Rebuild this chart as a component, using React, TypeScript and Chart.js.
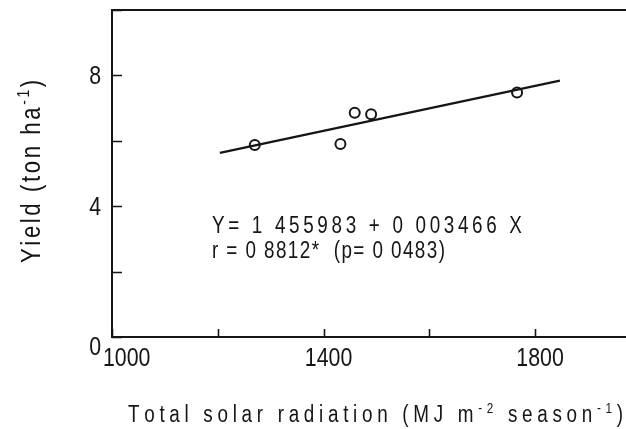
import React, { useEffect, useRef } from "react";
import { Chart, registerables } from "chart.js";

Chart.register(...registerables);

// ---- data ----
const radiation = [1270, 1432, 1459, 1490, 1766];
const yieldValues = [5.87, 5.9, 6.86, 6.81, 7.48];
const fitX = [1204, 1847];
const fitY = [5.63, 7.84];
const xTickValues = [1000, 1200, 1400, 1600, 1800];
const yTickValues = [0, 2, 4, 6, 8, 10];
const xTickLabels = [1000, 1400, 1800];
const yTickLabels = [0, 4, 8];
const eqLine1 = "Y= 1 455983 + 0 003466 X";
const eqLine2 = "r = 0 8812*  (p= 0 0483)";
const xTitle = [
  { t: "Total solar radiation (MJ m" },
  { t: "-2", sup: true },
  { t: " season" },
  { t: "-1", sup: true },
  { t: ")" },
];
const yTitle = [{ t: "Yield (ton ha" }, { t: "-1", sup: true }, { t: ")" }];

const FAMILY = "'Liberation Sans', Arial, sans-serif";
const HSCALE = 0.82;
const INK = "#151515";

type Seg = { t: string; sup?: boolean };

function measureRich(ctx: CanvasRenderingContext2D, segs: Seg[], size: number) {
  const chars: { ch: string; sup: boolean; w: number }[] = [];
  for (const s of segs) {
    for (const ch of s.t) {
      const sz = s.sup ? size * 0.62 : size;
      ctx.font = `${sz}px ${FAMILY}`;
      chars.push({ ch, sup: !!s.sup, w: ctx.measureText(ch).width * HSCALE });
    }
  }
  return chars;
}

// draws text at (x, y baseline); letter spacing chosen so that it spans targetWidth
// (targetWidth <= 0 : natural width, no extra spacing)
function drawRich(
  ctx: CanvasRenderingContext2D,
  segs: Seg[],
  x: number,
  y: number,
  size: number,
  targetWidth: number,
  align: "left" | "center" | "right" = "left"
) {
  const chars = measureRich(ctx, segs, size);
  const natural = chars.reduce((a, c) => a + c.w, 0);
  const ls = targetWidth > 0 && chars.length > 1 ? (targetWidth - natural) / (chars.length - 1) : 0;
  const total = natural + ls * (chars.length - 1);
  let cx = align === "left" ? x : align === "center" ? x - total / 2 : x - total;
  ctx.textAlign = "left";
  ctx.textBaseline = "alphabetic";
  for (const c of chars) {
    const sz = c.sup ? size * 0.62 : size;
    ctx.font = `${sz}px ${FAMILY}`;
    ctx.save();
    ctx.translate(cx, c.sup ? y - size * 0.4 : y);
    ctx.scale(HSCALE, 1);
    ctx.fillText(c.ch, 0, 0);
    ctx.restore();
    cx += c.w + ls;
  }
}

const decorPlugin = {
  id: "decor",
  afterDraw(chart: any) {
    const ctx: CanvasRenderingContext2D = chart.ctx;
    const { left, right, top, bottom } = chart.chartArea;
    const xs = chart.scales.x;
    const ys = chart.scales.y;
    ctx.save();
    ctx.strokeStyle = INK;
    ctx.fillStyle = INK;
    // top frame line
    ctx.lineWidth = 2;
    ctx.beginPath();
    ctx.moveTo(left - 1, top);
    ctx.lineTo(right, top);
    ctx.stroke();
    // inward tick marks
    ctx.lineWidth = 1.6;
    ctx.beginPath();
    for (const v of xTickValues) {
      const px = Math.round(xs.getPixelForValue(v)) + 0.5;
      ctx.moveTo(px, bottom);
      ctx.lineTo(px, bottom - 8);
    }
    for (const v of yTickValues) {
      const py = Math.round(ys.getPixelForValue(v)) + 0.5;
      ctx.moveTo(left, py);
      ctx.lineTo(left + 10, py);
    }
    ctx.stroke();
    // tick labels
    const TS = 26;
    for (const v of xTickLabels) {
      const px = xs.getPixelForValue(v);
      if (v === xs.min) drawRich(ctx, [{ t: String(v) }], px - 9, bottom + 29, TS, 0, "left");
      else drawRich(ctx, [{ t: String(v) }], px + 5, bottom + 29, TS, 0, "center");
    }
    for (const v of yTickLabels) {
      const py = ys.getPixelForValue(v);
      const base = v === ys.min ? py + 18 : py + 9;
      drawRich(ctx, [{ t: String(v) }], left - 11, base, TS, 0, "right");
    }
    // regression annotation
    const ax = xs.getPixelForValue(1189);
    drawRich(ctx, [{ t: eqLine1 }], ax, ys.getPixelForValue(3.18), 23, 310);
    drawRich(ctx, [{ t: eqLine2 }], ax, ys.getPixelForValue(2.42), 23, 233);
    // x axis title
    drawRich(ctx, xTitle, 128, 422, 23, 495);
    // y axis title (rotated)
    ctx.translate(40, 263);
    ctx.rotate(-Math.PI / 2);
    drawRich(ctx, yTitle, 0, 0, 27, 183);
    ctx.restore();
  },
};

export default function App() {
  const ref = useRef<HTMLCanvasElement | null>(null);
  useEffect(() => {
    document.body.style.margin = "0";
    const canvas = ref.current;
    if (!canvas) return;
    const chart = new Chart(canvas, {
      type: "scatter",
      data: {
        datasets: [
          {
            label: "Observed",
            data: radiation.map((x, i) => ({ x, y: yieldValues[i] })),
            pointRadius: 5,
            pointHoverRadius: 5,
            borderWidth: 2,
            borderColor: INK,
            backgroundColor: "rgba(0,0,0,0)",
          },
          {
            label: "Fit",
            type: "line",
            data: fitX.map((x, i) => ({ x, y: fitY[i] })),
            showLine: true,
            pointRadius: 0,
            borderWidth: 2.2,
            borderColor: INK,
            fill: false,
          } as any,
        ],
      },
      options: {
        animation: false,
        responsive: false,
        layout: { autoPadding: false, padding: { top: 10, left: 0, right: 0, bottom: 0 } },
        plugins: {
          legend: { display: false },
          tooltip: { enabled: false },
        },
        scales: {
          x: {
            type: "linear",
            min: 1000,
            max: 1972,
            afterFit: (s: any) => {
              s.height = 92;
            },
            ticks: { display: false },
            grid: { display: false, drawTicks: false },
            border: { display: true, color: INK, width: 2 },
          },
          y: {
            type: "linear",
            min: 0,
            max: 10,
            afterFit: (s: any) => {
              s.width = 112;
            },
            ticks: { display: false },
            grid: { display: false, drawTicks: false },
            border: { display: true, color: INK, width: 2 },
          },
        },
      } as any,
      plugins: [decorPlugin],
    });
    return () => chart.destroy();
  }, []);
  return (
    <div style={{ width: 626, height: 429 }}>
      <canvas ref={ref} width={626} height={429} style={{ display: "block" }} />
    </div>
  );
}
